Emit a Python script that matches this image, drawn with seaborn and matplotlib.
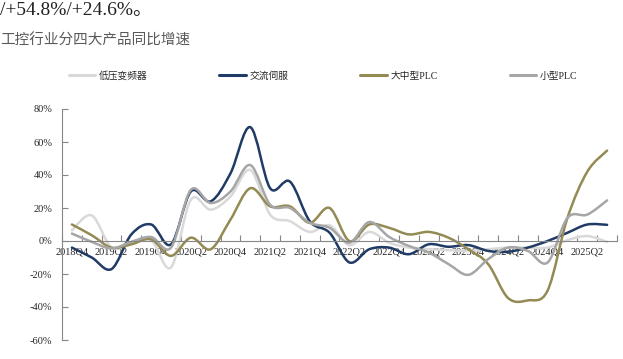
import numpy as np
import pandas as pd
import matplotlib
matplotlib.use('Agg')
import matplotlib.pyplot as plt
from matplotlib.path import Path
from matplotlib.patches import PathPatch
import seaborn as sns

# quarterly YoY growth (%) of the four product groups
quarters = ['2018Q4',
            '2019Q1', '2019Q2', '2019Q3', '2019Q4',
            '2020Q1', '2020Q2', '2020Q3', '2020Q4',
            '2021Q1', '2021Q2', '2021Q3', '2021Q4',
            '2022Q1', '2022Q2', '2022Q3', '2022Q4',
            '2023Q1', '2023Q2', '2023Q3', '2023Q4',
            '2024Q1', '2024Q2', '2024Q3', '2024Q4',
            '2025Q1', '2025Q2', '2025Q3']
lv_drive = [6.5, 15.5, -4, -1.5, 0.5, -16, 25, 19, 27, 43, 16, 12, 5.5, 9.5,
            -2.5, 5.5, -1, -4, -5, -5.5, -6, -5, -4, -4, -4, 0.5, 3, -0.5]
servo = [-4, -10, -17, 4, 10, -2, 30, 24, 41, 69, 32, 36, 12, 5,
         -13, -5, -4, -8, -2, -3.5, -2.5, -6, -6.5, -4, 0, 5, 10, 9.8]
large_plc = [10, 3.5, -4, -2, 1, -9, 2, -5, 13, 32, 21, 21, 11, 20,
             0, 10, 8, 4, 5.5, 2, -5, -14, -34.5, -36, -30, 14, 42, 54.8]
small_plc = [4.5, -0.5, -4.5, -0.5, 2.4, -4, 31, 23, 30, 46, 22, 20, 11, 8,
             -1, 11.5, 2.5, -3, -7, -14, -20.5, -11, -4, -6, -13, 14, 16, 24.6]

series_names = ['低压变频器', '交流伺服', '大中型PLC', '小型PLC']
series_vals = [lv_drive, servo, large_plc, small_plc]
colors = ['#D9D9D9', '#1F3B66', '#948A54', '#A6A6A6']

df = pd.concat([pd.DataFrame({'idx': range(len(quarters)), 'value': v, 'series': n})
                for n, v in zip(series_names, series_vals)], ignore_index=True)

sns.set_style('ticks')
plt.rcParams['font.family'] = ['Liberation Serif', 'Noto Sans CJK SC']


def smooth_path(y):
    # Excel-style smoothed line: cubic Bezier through each data point
    pts = np.column_stack([np.arange(len(y), dtype=float), y])
    padded = np.vstack([pts[0], pts, pts[-1]])
    verts, codes = [pts[0]], [Path.MOVETO]
    for i in range(len(pts) - 1):
        p0, p1, p2, p3 = padded[i], padded[i + 1], padded[i + 2], padded[i + 3]
        verts += [p1 + (p2 - p0) / 6, p2 - (p3 - p1) / 6, p2]
        codes += [Path.CURVE4] * 3
    return Path(verts, codes)


fig = plt.figure(figsize=(6.23, 3.59), dpi=100)
ax = fig.add_axes([62 / 623, 19 / 359, 555 / 623, 231 / 359])

sns.lineplot(data=df, x='idx', y='value', hue='series', hue_order=series_names,
             palette=colors, linewidth=0, ax=ax)
for vals, c in zip(series_vals, colors):
    ax.add_patch(PathPatch(smooth_path(vals), fill=False, edgecolor=c, lw=1.8,
                           capstyle='round', joinstyle='round'))

ax.set_xlim(-0.5, len(quarters) - 0.5)
ax.set_ylim(-60, 80)
yt = list(range(-60, 81, 20))
ax.set_yticks(yt)
ax.set_yticklabels([f'{v}%' for v in yt])
ax.set_xticks(np.arange(-0.5, len(quarters), 1))
ax.set_xticklabels([])
ax.set_xticks(range(0, len(quarters), 2), minor=True)
ax.set_xticklabels(quarters[::2], minor=True)
ax.set_xlabel('')
ax.set_ylabel('')

for s in ['top', 'right']:
    ax.spines[s].set_visible(False)
ax.spines['bottom'].set_position(('data', 0))
for s in ['left', 'bottom']:
    ax.spines[s].set_color('#868686')
    ax.spines[s].set_linewidth(0.8)
ax.tick_params(axis='both', which='major', direction='in', length=4, width=0.8,
               color='#868686', labelcolor='#262626', labelsize=7.5)
ax.tick_params(axis='y', pad=7)
ax.tick_params(axis='x', which='minor', length=0, pad=5, labelsize=7.5,
               labelcolor='#262626')

handles, labels = ax.get_legend_handles_labels()
ax.get_legend().remove()
leg = fig.legend(handles, labels, loc='center', bbox_to_anchor=(323 / 623, 1 - 76 / 359),
                 ncol=4, frameon=False, fontsize=7, handlelength=2.7,
                 handletextpad=0.4, columnspacing=7.4, borderpad=0)
for line in leg.get_lines():
    line.set_linewidth(2.2)

fig.text(0.0, 1 - 2 / 359, '/+54.8%/+24.6%。', ha='left', va='top',
         fontsize=14, color='#222222')
fig.text(0.0, 1 - 41 / 359, '工控行业分四大产品同比增速', ha='left', va='center',
         fontsize=10.5, color='#595959')

fig.savefig('out.png', dpi=100)
